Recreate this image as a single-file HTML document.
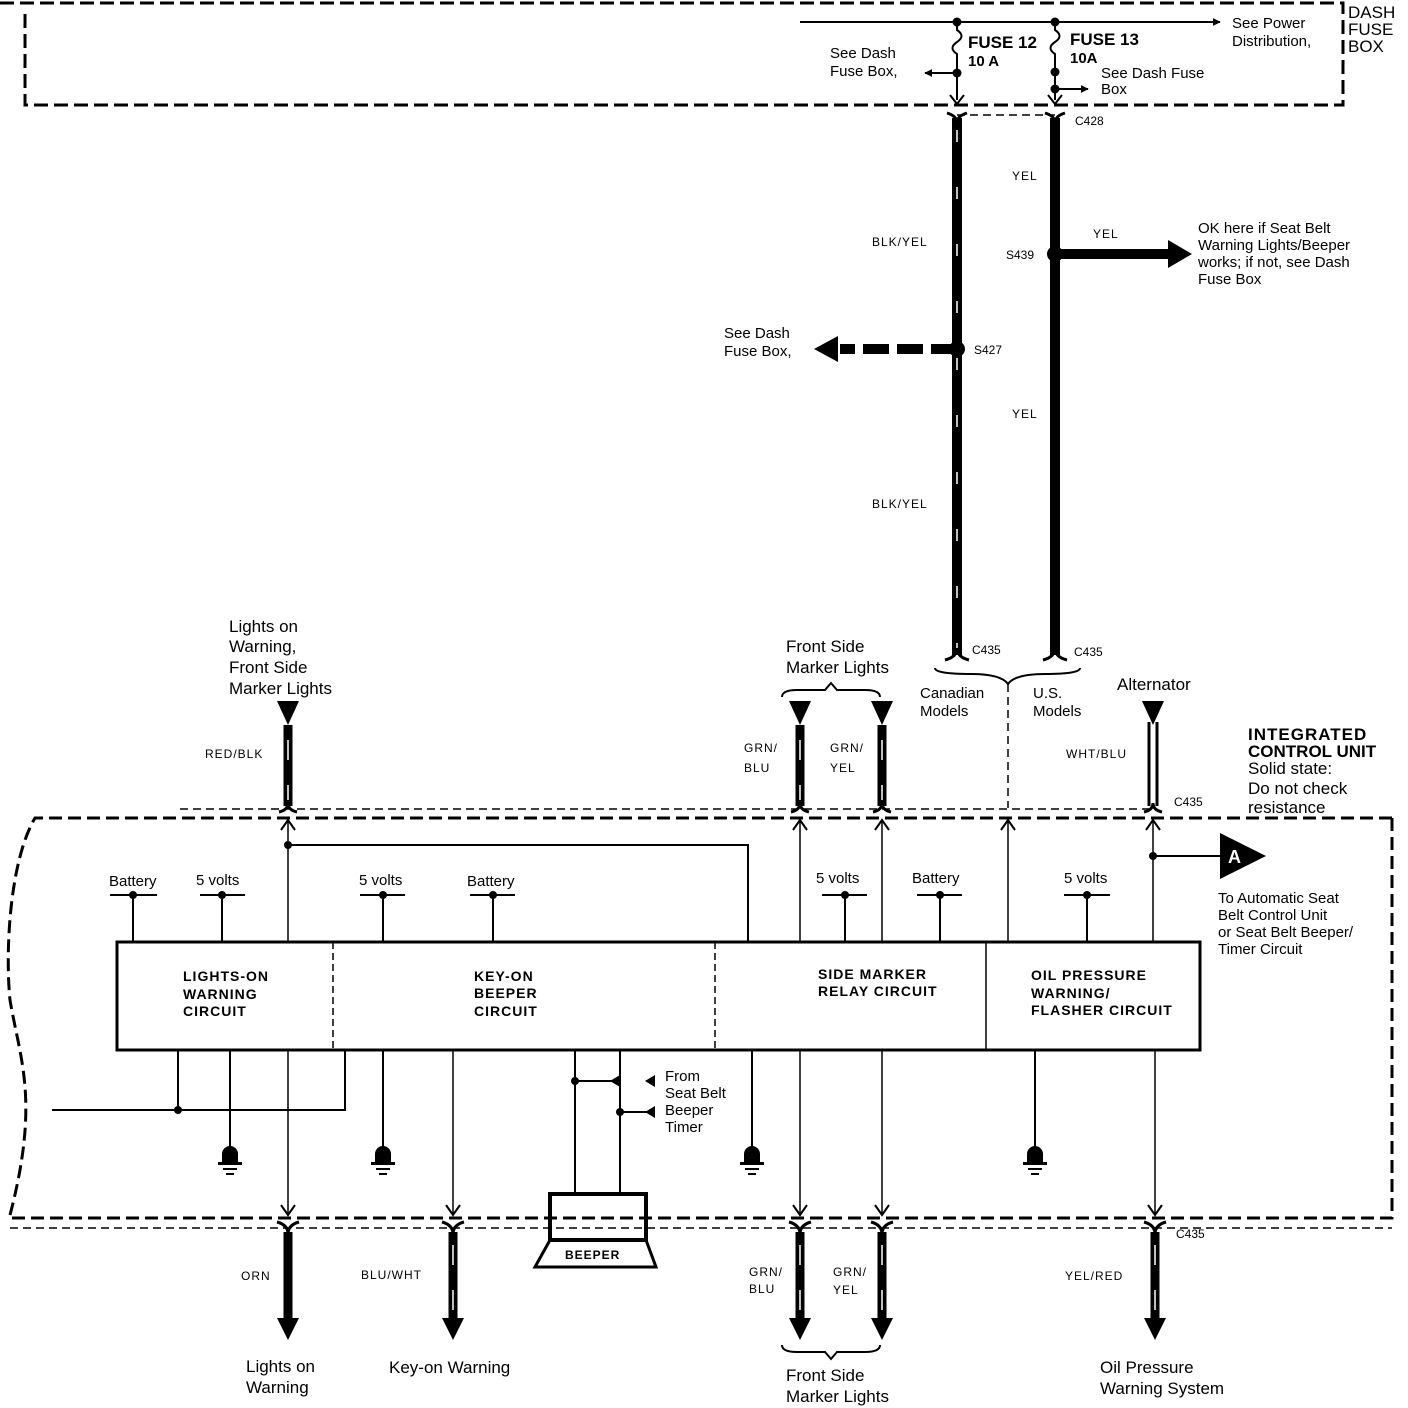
<!DOCTYPE html>
<html><head><meta charset="utf-8"><style>
html,body{margin:0;padding:0;background:#fff}
svg{display:block}
text{font-family:"Liberation Sans",sans-serif;fill:#000}
.s{font-size:15px}
.b{font-size:14px;font-weight:bold;letter-spacing:1px}
.m{font-size:17px}
</style></head><body>
<svg width="1408" height="1408" viewBox="0 0 1408 1408" xmlns="http://www.w3.org/2000/svg">
<defs>
<marker id="ah" viewBox="0 0 10 10" refX="9" refY="5" markerWidth="8" markerHeight="8" markerUnits="userSpaceOnUse" orient="auto"><path d="M0,0L10,5L0,10z"/></marker>
</defs>
<g fill="none" stroke="#000">
<path d="M0,3H1343V105H25V10" stroke-width="3" stroke-dasharray="14,6"/>
<path d="M800,22H1220" stroke-width="2" marker-end="url(#ah)"/>
<path d="M957,22V30c6,4,6,8,0,12s-6,8,0,12V100" stroke-width="2"/>
<path d="M1055,22V30c6,4,6,8,0,12s-6,8,0,12V100" stroke-width="2"/>
<path d="M957,73H925" stroke-width="2" marker-end="url(#ah)"/>
<path d="M1055,89H1088" stroke-width="2" marker-end="url(#ah)"/>
<path d="M950,95L957,104L964,95M1048,95L1055,104L1062,95" stroke-width="2"/>
<path d="M957,115H1055" stroke-width="1.5" stroke-dasharray="8,5"/>
<path d="M957,118V655" stroke-width="10"/>
<path d="M957,130V650" stroke="#fff" stroke-width="1.5" stroke-dasharray="12,45"/>
<path d="M1055,118V655" stroke-width="10"/>
<path d="M947,113q10,3,10,10q0-7,10-10M1045,113q10,3,10,10q0-7,10-10" stroke-width="3"/>
<path d="M945,660q12-3,12-12q0,9,12,12M1043,660q12-3,12-12q0,9,12,12" stroke-width="3"/>
<path d="M1055,254H1170" stroke-width="10"/>
<path d="M957,349H840" stroke-width="10" stroke-dasharray="26,8"/>
<path d="M935,668q0,6,36,6q30,0,37,10q7-10,37-10q35,0,35-6" stroke-width="2"/>
<path d="M1008,684V808" stroke-width="1.5" stroke-dasharray="8,5"/>
<path d="M288,725V806M800,725V806M882,725V806" stroke-width="9"/>
<path d="M288,740V800M800,740V800M882,740V800" stroke="#fff" stroke-width="1.5" stroke-dasharray="20,25"/>
<path d="M1149,722V806M1157,722V806" stroke-width="3"/>
<path d="M279,812q9-2,9-9q0,7,9,9M791,812q9-2,9-9q0,7,9,9M873,812q9-2,9-9q0,7,9,9M1144,812q9-2,9-9q0,7,9,9" stroke-width="3"/>
<path d="M180,809H1150" stroke-width="1.5" stroke-dasharray="8,5"/>
<path d="M1392,818V1218H10M1392,818H35C10,860,5,950,10,1000C20,1060,40,1100,10,1215" stroke-width="3" stroke-dasharray="13,6"/>
<path d="M10,1228H1392" stroke-width="1.5" stroke-dasharray="8,5"/>
<rect x="117" y="942" width="1083" height="108" stroke-width="3"/>
<path d="M333,942V1050M715,942V1050" stroke-width="1.5" stroke-dasharray="7,4"/>
<path d="M986,942V1050" stroke-width="1.5"/>
<path d="M110,895H157M133,895V942M200,895H245M222,895V942M360,895H405M383,895V942M470,895H515M493,895V942M822,895H867M845,895V942M917,895H962M940,895V942M1064,895H1110M1087,895V942" stroke-width="2"/>
<path d="M288,942V822M800,942V822M882,942V822M1008,942V822M1153,942V822" stroke-width="1.5"/>
<path d="M281,830L288,820L295,830M793,830L800,820L807,830M875,830L882,820L889,830M1001,830L1008,820L1015,830M1146,830L1153,820L1160,830" stroke-width="2"/>
<path d="M288,845H748V942M1153,856H1222" stroke-width="2"/>
<path d="M178,1050V1110M52,1110H345V1050M230,1050V1150M383,1050V1150M752,1050V1150M1035,1050V1150M575,1050V1193M620,1050V1193M575,1081H612M620,1112H650" stroke-width="2"/>
<path d="M288,1050V1214M453,1050V1214M800,1050V1214M882,1050V1214M1155,1050V1214" stroke-width="1.5"/>
<path d="M281,1205L288,1215L295,1205M446,1205L453,1215L460,1205M793,1205L800,1215L807,1205M875,1205L882,1215L889,1205M1148,1205L1155,1215L1162,1205" stroke-width="2"/>
<path d="M277,1222q11,3,11,12q0-9,11-12M442,1222q11,3,11,12q0-9,11-12M789,1222q11,3,11,12q0-9,11-12M871,1222q11,3,11,12q0-9,11-12M1144,1222q11,3,11,12q0-9,11-12" stroke-width="3"/>
<path d="M288,1232V1320M453,1232V1320M800,1232V1320M882,1232V1320M1155,1232V1320" stroke-width="9"/>
<path d="M453,1245V1315M800,1245V1315M882,1245V1315M1155,1245V1315" stroke="#fff" stroke-width="1.5" stroke-dasharray="20,25"/>
<rect x="550" y="1194" width="96" height="46" stroke-width="4"/>
<path d="M550,1240L535,1267H656L646,1240" stroke-width="3"/>
<path d="M782,1345q0,7,15,7h28l6,7l6-7h28q15,0,15-7" stroke-width="2"/>
<path d="M782,697q0-7,15-7h28l6-7l6,7h28q15,0,15,7" stroke-width="2"/>
</g>
<g fill="#000">
<circle cx="957" cy="22" r="4.5"/><circle cx="1055" cy="22" r="4.5"/>
<circle cx="957" cy="73" r="4.5"/><circle cx="1055" cy="72" r="4.5"/><circle cx="1055" cy="89" r="4.5"/>
<circle cx="1055" cy="254" r="8"/><circle cx="957" cy="349" r="8"/>
<path d="M1168,240L1192,254L1168,268z"/><path d="M838,336L814,349L838,362z"/>
<path d="M277,701H299L288,725z M789,701H811L800,725z M871,701H893L882,725z M1142,701H1164L1153,725z"/>
<circle cx="133" cy="895" r="4"/><circle cx="222" cy="895" r="4"/><circle cx="383" cy="895" r="4"/><circle cx="493" cy="895" r="4"/><circle cx="845" cy="895" r="4"/><circle cx="940" cy="895" r="4"/><circle cx="1087" cy="895" r="4"/>
<circle cx="288" cy="845" r="4"/><circle cx="1153" cy="856" r="4"/><circle cx="178" cy="1110" r="4"/><circle cx="575" cy="1081" r="4"/><circle cx="620" cy="1112" r="4"/>
<path d="M1220,833L1266,856L1220,879z"/>
<path d="M620,1075L610,1081L620,1087z M655,1075L645,1081L655,1087z M655,1106L645,1112L655,1118z"/>
<path d="M277,1318H299L288,1340z M442,1318H464L453,1340z M789,1318H811L800,1340z M871,1318H893L882,1340z M1144,1318H1166L1155,1340z"/>
</g>
<g fill="#000">
<path d="M222,1162v-8a8,8 0 0 1 16,0v8z"/><rect x="218" y="1162" width="24" height="3"/><rect x="223" y="1168" width="14" height="2"/><rect x="226" y="1173" width="8" height="2"/>
<path d="M375,1162v-8a8,8 0 0 1 16,0v8z"/><rect x="371" y="1162" width="24" height="3"/><rect x="376" y="1168" width="14" height="2"/><rect x="379" y="1173" width="8" height="2"/>
<path d="M744,1162v-8a8,8 0 0 1 16,0v8z"/><rect x="740" y="1162" width="24" height="3"/><rect x="745" y="1168" width="14" height="2"/><rect x="748" y="1173" width="8" height="2"/>
<path d="M1027,1162v-8a8,8 0 0 1 16,0v8z"/><rect x="1023" y="1162" width="24" height="3"/><rect x="1028" y="1168" width="14" height="2"/><rect x="1031" y="1173" width="8" height="2"/>
</g>
<text x="1232" y="28" class="s">See Power</text><text x="1232" y="46" class="s">Distribution,</text>
<text x="1348" y="18" class="m">DASH</text><text x="1348" y="35" class="m">FUSE</text><text x="1348" y="52" class="m">BOX</text>
<text x="968" y="48" class="m" font-weight="bold">FUSE 12</text><text x="968" y="66" class="s" font-weight="bold">10 A</text>
<text x="1070" y="45" class="m" font-weight="bold">FUSE 13</text><text x="1070" y="63" class="s" font-weight="bold">10A</text>
<text x="830" y="58" class="s">See Dash</text><text x="830" y="76" class="s">Fuse Box,</text>
<text x="1101" y="78" class="s">See Dash Fuse</text><text x="1101" y="94" class="s">Box</text>
<text x="1075" y="125" font-size="12">C428</text>
<text x="1012" y="180" font-size="12" letter-spacing="1">YEL</text>
<text x="1093" y="238" font-size="12" letter-spacing="1">YEL</text>
<text x="1006" y="259" font-size="12">S439</text>
<text x="1198" y="233" class="s">OK here if Seat Belt</text><text x="1198" y="250" class="s">Warning Lights/Beeper</text><text x="1198" y="267" class="s">works; if not, see Dash</text><text x="1198" y="284" class="s">Fuse Box</text>
<text x="872" y="246" font-size="12" letter-spacing="1">BLK/YEL</text>
<text x="724" y="338" class="s">See Dash</text><text x="724" y="356" class="s">Fuse Box,</text>
<text x="974" y="354" font-size="12">S427</text>
<text x="1012" y="418" font-size="12" letter-spacing="1">YEL</text>
<text x="872" y="508" font-size="12" letter-spacing="1">BLK/YEL</text>
<text x="972" y="654" font-size="12">C435</text><text x="1074" y="656" font-size="12">C435</text>
<text x="920" y="698" class="s">Canadian</text><text x="920" y="716" class="s">Models</text>
<text x="1033" y="698" class="s">U.S.</text><text x="1033" y="716" class="s">Models</text>
<text x="1117" y="690" class="m">Alternator</text>
<text x="786" y="652" class="m">Front Side</text><text x="786" y="673" class="m">Marker Lights</text>
<text x="229" y="632" class="m">Lights on</text><text x="229" y="652" class="m">Warning,</text><text x="229" y="673" class="m">Front Side</text><text x="229" y="694" class="m">Marker Lights</text>
<text x="205" y="758" font-size="12" letter-spacing="1">RED/BLK</text>
<text x="744" y="752" font-size="12" letter-spacing="1">GRN/</text><text x="744" y="772" font-size="12" letter-spacing="1">BLU</text>
<text x="830" y="752" font-size="12" letter-spacing="1">GRN/</text><text x="830" y="772" font-size="12" letter-spacing="1">YEL</text>
<text x="1066" y="758" font-size="12" letter-spacing="1">WHT/BLU</text>
<text x="1174" y="806" font-size="12">C435</text>
<text x="1248" y="740" class="m" font-weight="bold" letter-spacing="1">INTEGRATED</text>
<text x="1248" y="757" class="m" font-weight="bold">CONTROL UNIT</text>
<text x="1248" y="774" class="m">Solid state:</text><text x="1248" y="794" class="m">Do not check</text><text x="1248" y="813" class="m">resistance</text>
<text x="1228" y="863" font-size="18" font-weight="bold" style="fill:#fff">A</text>
<text x="1218" y="903" class="s">To Automatic Seat</text><text x="1218" y="920" class="s">Belt Control Unit</text><text x="1218" y="937" class="s">or Seat Belt Beeper/</text><text x="1218" y="954" class="s">Timer Circuit</text>
<text x="109" y="886" class="s">Battery</text><text x="196" y="885" class="s">5 volts</text><text x="359" y="885" class="s">5 volts</text><text x="467" y="886" class="s">Battery</text>
<text x="816" y="883" class="s">5 volts</text><text x="912" y="883" class="s">Battery</text><text x="1064" y="883" class="s">5 volts</text>
<text x="183" y="981" class="b" font-size="13">LIGHTS-ON</text><text x="183" y="999" class="b" font-size="13">WARNING</text><text x="183" y="1016" class="b" font-size="13">CIRCUIT</text>
<text x="474" y="981" class="b" font-size="13">KEY-ON</text><text x="474" y="998" class="b" font-size="13">BEEPER</text><text x="474" y="1016" class="b" font-size="13">CIRCUIT</text>
<text x="818" y="979" class="b" font-size="13">SIDE MARKER</text><text x="818" y="996" class="b" font-size="13">RELAY CIRCUIT</text>
<text x="1031" y="980" class="b" font-size="13">OIL PRESSURE</text><text x="1031" y="998" class="b" font-size="13">WARNING/</text><text x="1031" y="1015" class="b" font-size="13">FLASHER CIRCUIT</text>
<text x="665" y="1081" class="s">From</text><text x="665" y="1098" class="s">Seat Belt</text><text x="665" y="1115" class="s">Beeper</text><text x="665" y="1132" class="s">Timer</text>
<text x="565" y="1259" font-size="12" font-weight="bold" letter-spacing="1">BEEPER</text>
<text x="1176" y="1238" font-size="12">C435</text>
<text x="241" y="1280" font-size="12" letter-spacing="1">ORN</text>
<text x="361" y="1279" font-size="12" letter-spacing="1">BLU/WHT</text>
<text x="749" y="1276" font-size="12" letter-spacing="1">GRN/</text><text x="749" y="1293" font-size="12" letter-spacing="1">BLU</text>
<text x="833" y="1276" font-size="12" letter-spacing="1">GRN/</text><text x="833" y="1294" font-size="12" letter-spacing="1">YEL</text>
<text x="1065" y="1280" font-size="12" letter-spacing="1">YEL/RED</text>
<text x="246" y="1372" class="m">Lights on</text><text x="246" y="1393" class="m">Warning</text>
<text x="389" y="1373" class="m">Key-on Warning</text>
<text x="786" y="1381" class="m">Front Side</text><text x="786" y="1402" class="m">Marker Lights</text>
<text x="1100" y="1373" class="m">Oil Pressure</text><text x="1100" y="1394" class="m">Warning System</text>
</svg>
</body></html>
